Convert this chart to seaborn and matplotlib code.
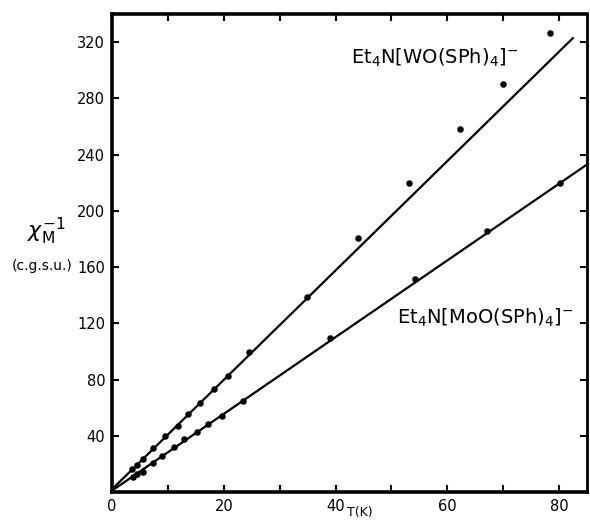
import matplotlib
matplotlib.use("Agg")
import matplotlib.pyplot as plt
import seaborn as sns
import pandas as pd
from matplotlib.ticker import MultipleLocator

# --- data ---
wo_T = [3.5, 4.5, 5.6, 7.4, 9.5, 11.8, 13.6, 15.7, 18.2, 20.8, 24.5, 34.9, 44.0, 53.1, 62.3, 70.0, 78.4]
wo_chi = [16, 19, 23.5, 31.3, 40, 47, 55.5, 63, 73, 82.5, 99.6, 139, 180.6, 219.8, 258, 290, 326.5]
mo_T = [3.7, 4.5, 5.5, 7.4, 8.9, 11.1, 12.9, 15.2, 17.2, 19.7, 23.4, 39.0, 54.2, 67.1, 80.1]
mo_chi = [10.7, 12.8, 14.2, 20.6, 25.6, 32, 37.7, 42.7, 48.4, 54, 64.7, 109.5, 151.5, 186, 219.8]
wo_fit_T = [0, 82.5]
wo_fit_chi = [2, 323]
mo_fit_T = [0, 85]
mo_fit_chi = [1, 233]

x_ticks = [0, 20, 40, 60, 80]
y_ticks = [40, 80, 120, 160, 200, 240, 280, 320]

sns.set_theme(style="white")
plt.rcParams['font.family'] = ['DejaVu Sans']

fig = plt.figure(figsize=(5.9, 5.21), dpi=100)
ax = fig.add_axes([0.19, 0.0557, 0.805, 0.9173])

df_wo = pd.DataFrame({"T": wo_T, "chi": wo_chi})
df_mo = pd.DataFrame({"T": mo_T, "chi": mo_chi})
sns.lineplot(x=wo_fit_T, y=wo_fit_chi, ax=ax, color="black", linewidth=1.6)
sns.lineplot(x=mo_fit_T, y=mo_fit_chi, ax=ax, color="black", linewidth=1.6)
sns.scatterplot(data=df_wo, x="T", y="chi", ax=ax, color="black", s=22, edgecolor="black", linewidth=0, zorder=3)
sns.scatterplot(data=df_mo, x="T", y="chi", ax=ax, color="black", s=22, edgecolor="black", linewidth=0, zorder=3)

ax.set_xlim(0, 85)
ax.set_ylim(0, 340)
ax.set_xticks(x_ticks)
ax.set_xticklabels([str(v) for v in x_ticks])
ax.xaxis.set_minor_locator(MultipleLocator(10))
ax.set_yticks(y_ticks)
ax.set_yticklabels([str(v) for v in y_ticks])

for s in ax.spines.values():
    s.set_linewidth(2.6)
    s.set_color("black")
    s.set_visible(True)
ax.spines["right"].set_linewidth(2.0)

ax.tick_params(axis="both", which="both", direction="in", top=True, right=True,
               bottom=True, left=True, color="black", width=1.5, labelsize=10.5,
               labelcolor="black")
ax.tick_params(which="major", length=5, pad=5)
ax.tick_params(which="minor", length=5)

ax.set_xlabel("")
ax.set_ylabel("")
ax.text(42, -19.5, "T(K)", ha="left", va="bottom", fontsize=9, color="black", clip_on=False)

fig.text(0.078, 0.555, r"$\chi_\mathrm{M}^{-1}$", fontsize=16, ha="center", va="center", color="black")
fig.text(0.072, 0.49, "(c.g.s.u.)", fontsize=10, ha="center", va="center", color="black")

ax.text(42.8, 309, r"Et$_4$N$\left[\mathrm{WO(SPh)_4}\right]^{-}$", fontsize=14, ha="left", va="center", color="black")
ax.text(51, 124, r"Et$_4$N$\left[\mathrm{MoO(SPh)_4}\right]^{-}$", fontsize=14, ha="left", va="center", color="black")

fig.savefig("out.png", dpi=100, facecolor="white")
